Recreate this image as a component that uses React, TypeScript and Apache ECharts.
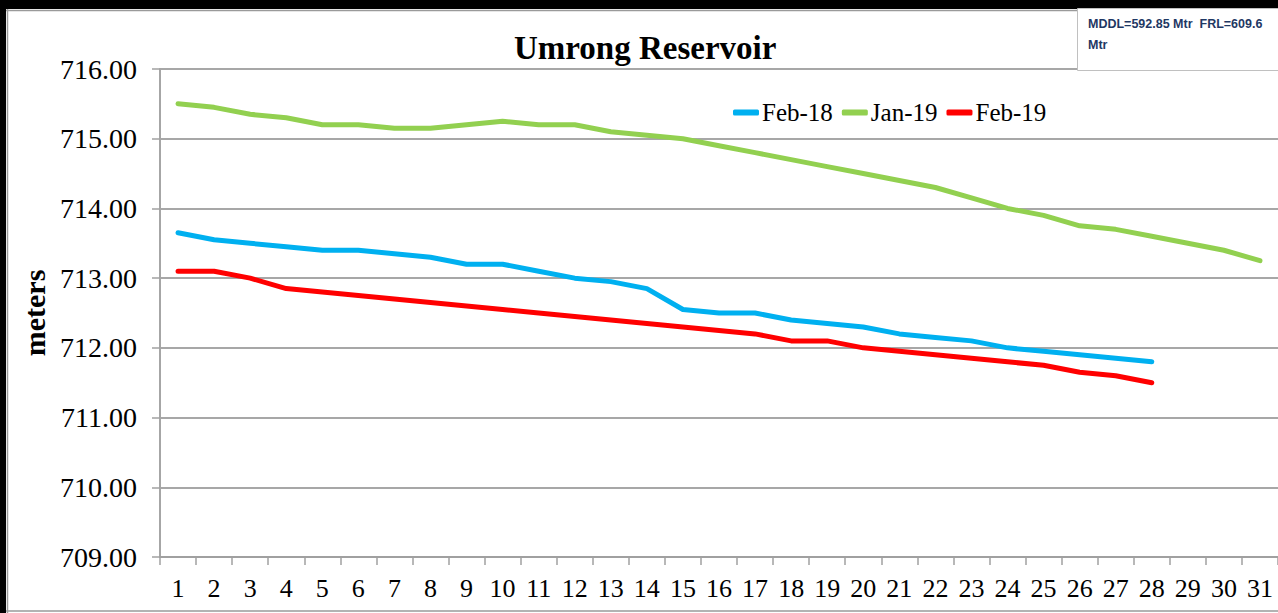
import React, { useEffect, useRef } from "react";
import * as echarts from "echarts";

const days = Array.from({ length: 31 }, (_, i) => String(i + 1));

const feb18 = [
  713.65, 713.55, 713.5, 713.45, 713.4, 713.4, 713.35, 713.3, 713.2, 713.2,
  713.1, 713.0, 712.95, 712.85, 712.55, 712.5, 712.5, 712.4, 712.35, 712.3,
  712.2, 712.15, 712.1, 712.0, 711.95, 711.9, 711.85, 711.8,
];

const jan19 = [
  715.5, 715.45, 715.35, 715.3, 715.2, 715.2, 715.15, 715.15, 715.2, 715.25,
  715.2, 715.2, 715.1, 715.05, 715.0, 714.9, 714.8, 714.7, 714.6, 714.5,
  714.4, 714.3, 714.15, 714.0, 713.9, 713.75, 713.7, 713.6, 713.5, 713.4,
  713.25,
];

const feb19 = [
  713.1, 713.1, 713.0, 712.85, 712.8, 712.75, 712.7, 712.65, 712.6, 712.55,
  712.5, 712.45, 712.4, 712.35, 712.3, 712.25, 712.2, 712.1, 712.1, 712.0,
  711.95, 711.9, 711.85, 711.8, 711.75, 711.65, 711.6, 711.5,
];

const seriesNames = ["Feb-18", "Jan-19", "Feb-19"];
const seriesColors = ["#00B0F0", "#92D050", "#FF0000"];
const titleText = "Umrong Reservoir";
const noteLines = ["MDDL=592.85 Mtr  FRL=609.6", "Mtr"];

const serif = "'Liberation Serif', 'Times New Roman', serif";
const noteFont = "bold 12.5px 'Liberation Sans', Arial, sans-serif";

export default function App() {
  const ref = useRef<HTMLDivElement>(null);

  useEffect(() => {
    if (!ref.current) return;
    const chart = echarts.init(ref.current, null, { renderer: "svg" });
    const data = [feb18, jan19, feb19];
    chart.setOption({
      animation: false,
      backgroundColor: "#ffffff",
      title: {
        text: titleText,
        left: 514,
        top: 31,
        padding: 0,
        textStyle: {
          fontFamily: serif,
          fontWeight: "bold",
          fontSize: 33,
          color: "#000",
        },
      },
      legend: {
        data: seriesNames,
        left: 733,
        top: 100,
        padding: 0,
        itemGap: 9,
        itemWidth: 26,
        itemHeight: 6,
        icon: "roundRect",
        textStyle: { fontFamily: serif, fontSize: 25, color: "#000", padding: [0, 0, 0, -2] },
      },
      grid: { left: 160, right: -4, top: 69, bottom: 56, containLabel: false },
      xAxis: {
        type: "category",
        data: days,
        boundaryGap: true,
        axisLine: { lineStyle: { color: "#a0a0a0", width: 2 } },
        axisTick: { show: true, length: 8, lineStyle: { color: "#a0a0a0", width: 1.5 } },
        axisLabel: {
          margin: 18,
          fontFamily: serif,
          fontSize: 26,
          color: "#000",
          interval: 0,
        },
        splitLine: { show: false },
      },
      yAxis: {
        type: "value",
        min: 709,
        max: 716,
        interval: 1,
        name: "meters",
        nameLocation: "middle",
        nameGap: 108,
        nameRotate: 90,
        nameTextStyle: {
          fontFamily: serif,
          fontWeight: "bold",
          fontSize: 30,
          color: "#000",
        },
        axisLine: { show: true, lineStyle: { color: "#a6a6a6", width: 2 } },
        axisTick: { show: true, length: 8, lineStyle: { color: "#a0a0a0", width: 1.5 } },
        axisLabel: {
          margin: 23,
          fontFamily: serif,
          fontSize: 28,
          color: "#000",
          formatter: (v: number) => v.toFixed(2),
        },
        splitLine: { show: true, lineStyle: { color: "#8a8a8a", width: 1.5 } },
      },
      series: seriesNames.map((name, i) => ({
        name,
        type: "line",
        data: data[i],
        showSymbol: false,
        symbol: "none",
        color: seriesColors[i],
        itemStyle: { color: seriesColors[i] },
        lineStyle: { color: seriesColors[i], width: 5, cap: "round", join: "round" },
      })),
      graphic: [
        { type: "rect", z: 100, shape: { x: 0, y: 0, width: 1278, height: 9 }, style: { fill: "#000" } },
        { type: "rect", z: 100, shape: { x: 0, y: 0, width: 6, height: 613 }, style: { fill: "#000" } },
        { type: "line", z: 100, shape: { x1: 6, y1: 10.5, x2: 1278, y2: 10.5 }, style: { stroke: "#9a9a9a", lineWidth: 1.5 } },
        { type: "line", z: 100, shape: { x1: 7.5, y1: 9, x2: 7.5, y2: 613 }, style: { stroke: "#9a9a9a", lineWidth: 1.5 } },
        { type: "line", z: 100, shape: { x1: 6, y1: 611, x2: 1278, y2: 611 }, style: { stroke: "#9a9a9a", lineWidth: 1.5 } },
        {
          type: "rect",
          z: 101,
          shape: { x: 1077.5, y: 8.5, width: 220, height: 62 },
          style: { fill: "#ffffff", stroke: "#c0c0c0", lineWidth: 1 },
        },
        {
          type: "text",
          z: 102,
          x: 1088,
          y: 24,
          style: {
            text: noteLines[0],
            fill: "#1F3864",
            font: noteFont,
            verticalAlign: "middle",
          },
        },
        {
          type: "text",
          z: 102,
          x: 1088,
          y: 45,
          style: {
            text: noteLines[1],
            fill: "#1F3864",
            font: noteFont,
            verticalAlign: "middle",
          },
        },
      ],
    });
    return () => chart.dispose();
  }, []);

  return (
    <div
      ref={ref}
      style={{ position: "fixed", left: 0, top: 0, width: 1278, height: 613 }}
    />
  );
}
